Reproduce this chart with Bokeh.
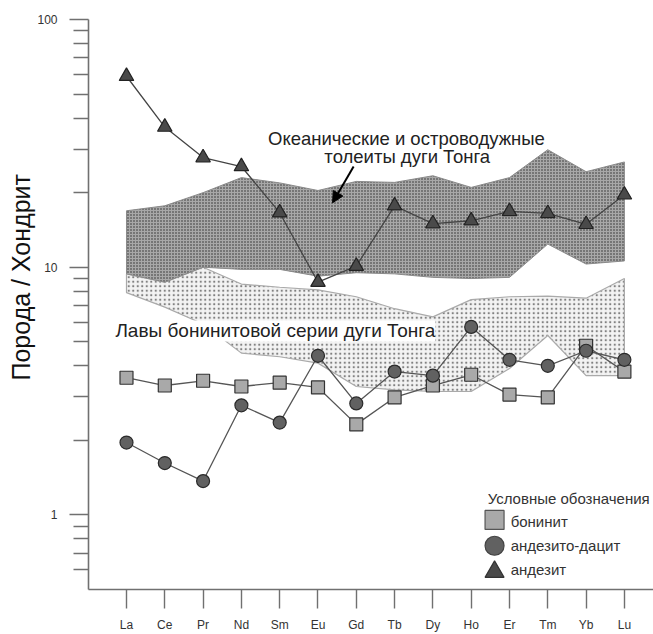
import math
from bokeh.plotting import figure
from bokeh.models import FixedTicker, Range1d, Label, Arrow, NormalHead, Title
from bokeh.embed import file_html
from bokeh.resources import INLINE

# ---------------- data ----------------
elements = ["La", "Ce", "Pr", "Nd", "Sm", "Eu", "Gd", "Tb", "Dy", "Ho", "Er", "Tm", "Yb", "Lu"]

boninite = [3.58, 3.33, 3.48, 3.30, 3.42, 3.27, 2.32, 2.98, 3.33, 3.68, 3.06, 2.98, 4.82, 3.79]
andesite_dacite = [1.96, 1.62, 1.37, 2.77, 2.36, 4.39, 2.82, 3.79, 3.65, 5.74, 4.23, 4.00, 4.60, 4.23]
andesite = [59.0, 36.8, 27.7, 25.5, 16.6, 8.7, 10.1, 17.7, 15.0, 15.4, 16.8, 16.5, 14.9, 19.6]

tholeiite_upper = [16.9, 17.7, 20.0, 23.0, 21.9, 20.4, 22.2, 22.0, 23.4, 21.0, 23.0, 29.8, 24.3, 26.6]
tholeiite_lower = [9.4, 8.7, 10.0, 9.8, 9.8, 9.2, 9.5, 9.4, 9.1, 9.0, 9.1, 12.4, 10.3, 10.6]

boninite_series_upper = [9.4, 8.7, 10.0, 8.55, 8.3, 8.1, 7.6, 6.8, 6.3, 7.4, 7.6, 7.65, 7.5, 9.0]
boninite_series_lower = [7.9, 6.9, 5.9, 4.5, 4.35, 4.1, 3.3, 3.2, 3.15, 3.15, 3.9, 5.3, 3.65, 3.65]

y_major_ticks = [1, 10, 100]
y_minor_ticks = [0.6, 0.7, 0.8, 0.9, 2, 3, 4, 5, 6, 7, 8, 9, 20, 30, 40, 50, 60, 70, 80, 90]

y_title = "Порода / Хондрит"
band_label_1 = ["Океанические и островодужные", "толеиты дуги Тонга"]
band_label_2 = "Лавы бонинитовой серии дуги Тонга"
legend_title = "Условные обозначения"
legend_labels = ["бонинит", "андезито-дацит", "андезит"]

idx = list(range(len(elements)))
FONT = "Liberation Sans"

p = figure(width=653, height=634, y_axis_type="log",
           x_range=Range1d(-0.992, 13.76), y_range=Range1d(0.5, 100),
           output_backend="svg", toolbar_location=None,
           min_border_left=88, min_border_right=0, min_border_top=19, min_border_bottom=42)
p.xgrid.visible = False
p.ygrid.visible = False
p.outline_line_color = None
p.background_fill_color = "white"

# ---------------- bands ----------------
p.patch(x=idx + idx[::-1], y=boninite_series_upper + boninite_series_lower[::-1],
        fill_color="#f3f3f3", line_color="#aaaaaa", line_width=1.2,
        hatch_pattern="dot", hatch_color="#808080", hatch_scale=4.5, hatch_weight=1.0)
p.patch(x=idx + idx[::-1], y=tholeiite_upper + tholeiite_lower[::-1],
        fill_color="#a8a8a8", line_color="#8a8a8a", line_width=1.0,
        hatch_pattern="dot", hatch_color="#2a2a2a", hatch_scale=3, hatch_weight=1.0)

# label with white box over the boninite band
p.add_layout(Label(x=-0.29, y=5.53, text=band_label_2, text_font=FONT, text_font_size="19px",
                   text_color="#222222", text_align="left", text_baseline="alphabetic",
                   background_fill_color="white", background_fill_alpha=1.0))

# ---------------- series ----------------
LINE = "#555555"
p.line(idx, boninite, line_color=LINE, line_width=1.3)
p.line(idx, andesite_dacite, line_color=LINE, line_width=1.3)
p.line(idx, andesite, line_color="#444444", line_width=1.3)

p.scatter(idx, boninite, marker="square", size=13, fill_color="#a9a9a9", line_color="#333333", line_width=1.2)
p.scatter(idx, andesite_dacite, marker="circle", size=13, fill_color="#616161", line_color="#2a2a2a", line_width=1.2)
p.scatter(idx, andesite, marker="triangle", size=14.5, fill_color="#4a4a4a", line_color="#222222", line_width=1.2)

# ---------------- annotations ----------------
p.add_layout(Label(x=7.31, y=33.0, text=band_label_1[0], text_font=FONT, text_font_size="18.5px",
                   text_color="#222222", text_align="center", text_baseline="alphabetic"))
p.add_layout(Label(x=7.33, y=27.9, text=band_label_1[1], text_font=FONT, text_font_size="18.5px",
                   text_color="#222222", text_align="center", text_baseline="alphabetic"))
p.add_layout(Arrow(x_start=5.93, y_start=25.5, x_end=5.38, y_end=18.2,
                   line_color="black", line_width=2,
                   end=NormalHead(size=11, fill_color="black", line_color="black")))

# y title (left panel), positioned from the bottom of the panel
p.add_layout(Title(text=y_title, align="left", offset=209, standoff=0,
                   text_font=FONT, text_font_size="25px", text_font_style="normal",
                   text_color="#111111"), "left")

# ---------------- legend ----------------
p.add_layout(Label(x=9.43, y=1.17, text=legend_title, text_font=FONT, text_font_size="15px",
                   text_color="#333333", text_align="left", text_baseline="middle"))
leg_marker_x = 9.61
leg_marker_y = [0.955, 0.751, 0.589]
leg_text_y = [0.937, 0.751, 0.601]
p.scatter([leg_marker_x], [leg_marker_y[0]], marker="square", size=19, fill_color="#a9a9a9", line_color="#555555", line_width=1.2)
p.scatter([leg_marker_x], [leg_marker_y[1]], marker="circle", size=19, fill_color="#616161", line_color="#444444", line_width=1.2)
p.scatter([leg_marker_x], [leg_marker_y[2]], marker="triangle", size=19, fill_color="#4a4a4a", line_color="#333333", line_width=1.2)
for lab, yy in zip(legend_labels, leg_text_y):
    p.add_layout(Label(x=10.03, y=yy, text=lab, text_font=FONT, text_font_size="15px",
                       text_color="#333333", text_align="left", text_baseline="middle"))

# ---------------- axes ----------------
AX = "#707070"
xa = p.xaxis[0]
xa.ticker = FixedTicker(ticks=idx)
xa.major_label_overrides = {i: e for i, e in enumerate(elements)}
xa.axis_line_color = AX
xa.axis_line_width = 1.6
xa.major_tick_line_color = AX
xa.major_tick_line_width = 1.4
xa.major_tick_out = 19
xa.major_tick_in = 0
xa.minor_tick_out = 0
xa.minor_tick_in = 0
xa.major_label_standoff = 9
xa.major_label_text_font = FONT
xa.major_label_text_font_size = "12px"
xa.major_label_text_color = "#333333"

ya = p.yaxis[0]
ya.ticker = FixedTicker(ticks=y_major_ticks, minor_ticks=y_minor_ticks)
ya.major_label_overrides = {1: "1", 10: "10", 100: "100"}
ya.axis_line_color = AX
ya.axis_line_width = 1.6
ya.major_tick_line_color = AX
ya.major_tick_line_width = 1.4
ya.minor_tick_line_color = AX
ya.minor_tick_line_width = 1.4
ya.major_tick_out = 19
ya.major_tick_in = 0
ya.minor_tick_out = 15
ya.minor_tick_in = 0
ya.major_label_standoff = 12
ya.major_label_text_font = FONT
ya.major_label_text_font_size = "12px"
ya.major_label_text_color = "#333333"

open("out.html", "w").write(file_html(p, INLINE))
